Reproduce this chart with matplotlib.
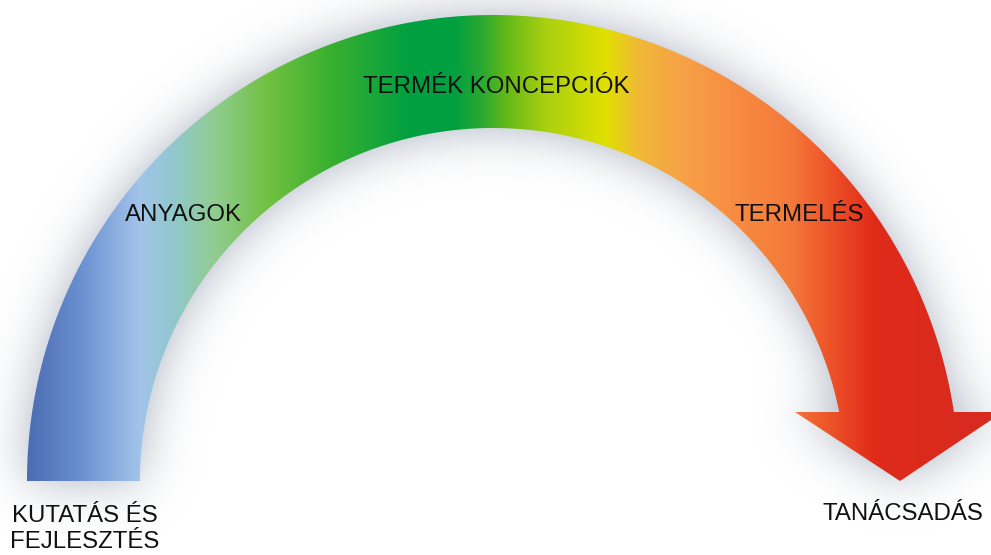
import numpy as np
import matplotlib.pyplot as plt
from matplotlib.path import Path
from matplotlib.patches import PathPatch
from matplotlib.colors import to_rgb

W, H = 991, 555

# stage labels along the arc
labels = ["KUTATÁS ÉS\nFEJLESZTÉS", "ANYAGOK", "TERMÉK KONCEPCIÓK", "TERMELÉS", "TANÁCSADÁS"]
label_x = [85, 183, 496, 799, 903]
label_y = [529, 215, 87, 215, 514]

# band colour as a function of horizontal position (pixels)
grad_x = [27, 80, 140, 175, 215, 270, 330, 410, 455, 485, 505, 545, 605, 640,
          685, 740, 790, 835, 875, 960]
grad_c = ["#4a6cb0", "#6a8fd0", "#a2c4ea", "#90c8cc", "#90cc90", "#70c040",
          "#3ab030", "#00a040", "#00a040", "#30aa30", "#60b818", "#a8d010",
          "#e0e000", "#f0b838", "#f7a048", "#f78a40", "#f47a3a", "#ec4e26",
          "#e02a1a", "#d82a1e"]

# arc geometry in pixels
cx, cy = 493, 481
r_out, r_in = 466, 353
shaft_y = 412
head_left, head_right, tip_x, tip_y = 795, 1003, 900, 481

t_out = np.arcsin((cy - shaft_y) / r_out)
t_in = np.arcsin((cy - shaft_y) / r_in)
th_o = np.linspace(t_out, np.pi, 300)
th_i = np.linspace(np.pi, t_in, 300)
xs = np.concatenate([cx + r_out * np.cos(th_o), cx + r_in * np.cos(th_i),
                     [head_left, tip_x, head_right]])
ys = np.concatenate([cy - r_out * np.sin(th_o), cy - r_in * np.sin(th_i),
                     [shaft_y, tip_y, shaft_y]])
verts = np.column_stack([xs, ys])
path = Path(np.vstack([verts, verts[:1]]), closed=True)

fig = plt.figure(figsize=(W / 100, H / 100), dpi=100)
ax = fig.add_axes([0, 0, 1, 1])
ax.set_xlim(0, W)
ax.set_ylim(H, 0)
ax.axis("off")

# soft grey glow around the arrow
gx, gy = np.meshgrid(np.arange(W) + 0.5, np.arange(H) + 0.5)
mask = path.contains_points(np.column_stack([gx.ravel(), gy.ravel()])).reshape(H, W).astype(float)
k = np.arange(-75, 76)
kern = np.exp(-0.5 * (k / 24.0) ** 2)
kern /= kern.sum()
pad = np.pad(mask, 75)
blur = np.apply_along_axis(lambda r: np.convolve(r, kern, mode="same"), 1, pad)
blur = np.apply_along_axis(lambda c: np.convolve(c, kern, mode="same"), 0, blur)
blur = blur[75:-75, 75:-75]
shadow = np.zeros((H, W, 4))
shadow[..., :3] = to_rgb("#c2c8d2")
shadow[..., 3] = np.clip(blur * 1.6, 0, 1) * 0.85
ax.imshow(shadow, extent=(0, W, H, 0), zorder=1, interpolation="bilinear")

# gradient band clipped to the arrow shape
cols = np.arange(W) + 0.5
rgb = np.array([to_rgb(c) for c in grad_c])
row = np.column_stack([np.interp(cols, grad_x, rgb[:, i]) for i in range(3)])
img = np.tile(row[None, :, :], (H, 1, 1))
patch = PathPatch(path, facecolor="none", edgecolor="none", transform=ax.transData)
ax.add_patch(patch)
im = ax.imshow(img, extent=(0, W, H, 0), zorder=2, interpolation="bilinear")
im.set_clip_path(patch)

for lab, x, y in zip(labels, label_x, label_y):
    ax.text(x, y, lab, ha="center", va="center", fontsize=17.3,
            family="Liberation Sans", color="#111111", linespacing=1.2, zorder=3)

fig.savefig("out.png", dpi=100, facecolor="white")
